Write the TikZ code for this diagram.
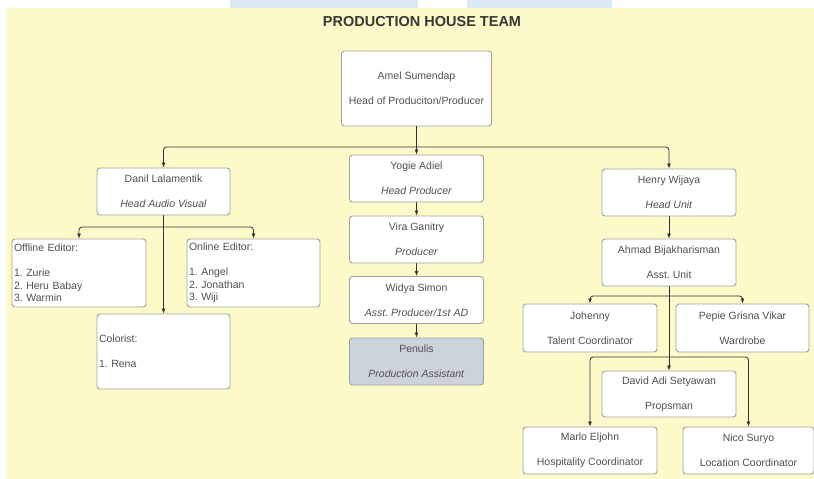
\documentclass[tikz,border=0pt]{standalone}
\usepackage{fontspec}
\setmainfont{Liberation Sans}
\usetikzlibrary{arrows.meta}
\frenchspacing

\definecolor{panel}{HTML}{FCFAC8}
\definecolor{wmark}{HTML}{DCEAF6}
\definecolor{txt}{HTML}{505050}
\definecolor{frame}{HTML}{A0A0A0}
\definecolor{shade}{HTML}{CDD3DC}

\begin{document}
\begin{tikzpicture}[line cap=round,line join=round,x=1pt,y=-1pt,
    card/.style={draw=frame,line width=0.9pt,fill=white,rounded corners=3pt,text=txt,
      align=center,inner sep=0pt,minimum width=134pt,minimum height=47pt,
      font=\fontsize{10.5}{12.5}\selectfont},
    listcard/.style={card,align=left,text width=130pt,inner xsep=2pt,minimum width=0pt},
    conn/.style={draw=black!80,line width=0.8pt,-{Latex[length=5pt,width=4pt]}}]

    \useasboundingbox (0,0) rectangle (814,479);
    \fill[white] (0,0) rectangle (814,479);
    \fill[wmark] (230,0) rectangle (612,8);
    \fill[white] (418,0) rectangle (467,8);
    \fill[panel] (6,8) rectangle (814,479);

    \node[font=\fontsize{14.5}{17}\selectfont\bfseries,text=black!78] (title) at (422,22) {PRODUCTION HOUSE TEAM};

    % head
    \node[card,minimum width=150pt,minimum height=75pt] (amel) at (416.5,88.5) {Amel Sumendap\\[12.5pt]Head of Produciton/Producer};

    % audio visual
    \node[card,minimum width=133pt] (danil) at (163.5,191.5) {Danil Lalamentik\\[12.5pt]\textit{Head Audio Visual}};
    \node[listcard,minimum height=68pt] (offline) at (79,273) {Offline Editor:\\[12.5pt]1. Zurie\\2. Heru Babay\\3. Warmin};
    \node[listcard,text width=129pt,minimum height=68pt] (online) at (253.5,273) {Online Editor:\\[12.5pt]1. Angel\\2. Jonathan\\3. Wiji};
    \node[listcard,text width=129pt,minimum height=75pt] (colorist) at (163.5,351.5) {Colorist:\\[12.5pt]1. Rena};

    % producers
    \node[card] (yogie) at (416.5,178.5) {Yogie Adiel\\[12.5pt]\textit{Head Producer}};
    \node[card] (vira) at (416.5,239.5) {Vira Ganitry\\[12.5pt]\textit{Producer}};
    \node[card] (widya) at (416.5,300) {Widya Simon\\[12.5pt]\textit{Asst. Producer/1st AD}};
    \node[card,fill=shade] (penulis) at (416.5,361.5) {Penulis\\[12.5pt]\textit{Production Assistant}};

    % unit
    \node[card] (henry) at (669,192.5) {Henry Wijaya\\[12.5pt]\textit{Head Unit}};
    \node[card] (ahmad) at (669,262.5) {Ahmad Bijakharisman\\[12.5pt]Asst. Unit};
    \node[card,minimum height=48pt] (johenny) at (590,328) {Johenny\\[12.5pt]Talent Coordinator};
    \node[card,minimum width=133pt,minimum height=48pt] (pepie) at (742.5,328) {Pepie Grisna Vikar\\[12.5pt]Wardrobe};
    \node[card,minimum height=46pt] (david) at (669,394) {David Adi Setyawan\\[12.5pt]Propsman};
    \node[card] (marlo) at (590,450.5) {Marlo Eljohn\\[12.5pt]Hospitality Coordinator};
    \node[card,minimum width=131pt] (nico) at (748.5,450.5) {Nico Suryo\\[12.5pt]Location Coordinator};

    \coordinate (top) at (416.5,147);
    \coordinate (av) at (163.5,227);
    \coordinate (unit) at (669,296);
    \coordinate (crew) at (669,357);

    \draw[conn] (amel.south) -- (yogie.north);
    \draw[conn,rounded corners=3pt] (top) -| (danil.north);
    \draw[conn,rounded corners=3pt] (top) -| (henry.north);

    \draw[conn] (danil.south) -- (colorist.north);
    \draw[conn,rounded corners=3pt] (av) -| (offline.north);
    \draw[conn,rounded corners=3pt] (av) -| (online.north);

    \foreach \a/\b in {yogie/vira,vira/widya,widya/penulis,henry/ahmad}
      \draw[conn] (\a.south) -- (\b.north);

    \draw[conn] (ahmad.south) -- (david.north);
    \foreach \n in {johenny,pepie}
      \draw[conn,rounded corners=3pt] (unit) -| (\n.north);
    \foreach \n in {marlo,nico}
      \draw[conn,rounded corners=3pt] (crew) -| (\n.north);
  \end{tikzpicture}
\end{document}
